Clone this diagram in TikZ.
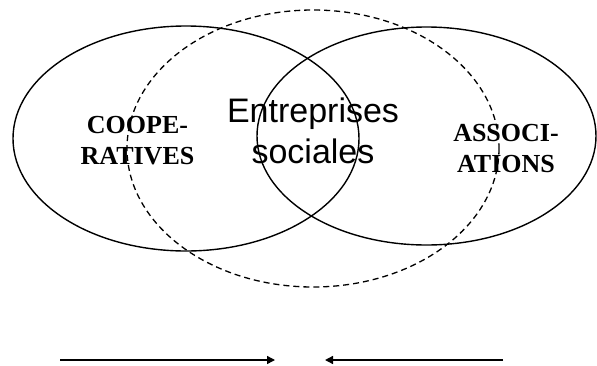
\documentclass[tikz,border=0pt]{standalone}
\usepackage{fontspec}
\setmainfont{Liberation Serif}
\setsansfont{Liberation Sans}
\usepackage{tikz}
\usetikzlibrary{arrows.meta}

\tikzset{
  sector/.style={line width=1.4pt},
  social/.style={line width=1.3pt, dash pattern=on 6pt off 4pt},
  family/.style={align=center, inner sep=0pt, font=\bfseries\fontsize{26}{31}\selectfont},
  label/.style={align=center, inner sep=0pt, font=\sffamily\fontsize{34}{41}\selectfont},
  push/.style={line width=1.4pt, -{Triangle[length=8pt,width=8pt]}}
}

\begin{document}
\begin{tikzpicture}[x=1pt, y=-1pt]
        \useasboundingbox (0,0) rectangle (597,365);
        % Ellipses
        \draw[sector] (186,138.5) ellipse [x radius=173, y radius=112.5];
        \draw[sector] (426.5,136) ellipse [x radius=169.5, y radius=109];
        \draw[social] (313,148.5) ellipse [x radius=186, y radius=138.5];
        % Labels
        \node[family] (coop) at (137.5,141) {COOPE-\\RATIVES};
        \node[family] (assoc) at (506,148.5) {ASSOCI-\\ATIONS};
        \node[label] (es) at (313,131) {Entreprises\\sociales};
        % Arrows
        \coordinate (la) at (60,360);
        \coordinate (lb) at (275,360);
        \coordinate (ra) at (503,360);
        \coordinate (rb) at (325,360);
        \draw[push] (la) -- (lb);
        \draw[push] (ra) -- (rb);
\end{tikzpicture}
\end{document}
